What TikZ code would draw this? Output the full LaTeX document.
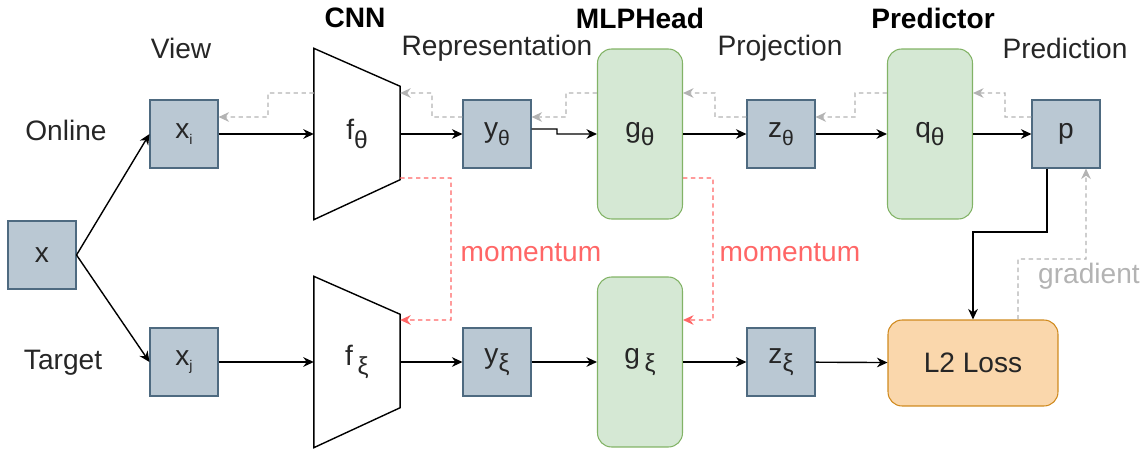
\documentclass[tikz,border=0pt]{standalone}
\usepackage{fontspec}
\setmainfont{Liberation Sans}
\usetikzlibrary{arrows.meta,calc,positioning}
\definecolor{vecfill}{HTML}{BAC8D3}
\definecolor{vecdraw}{HTML}{4E6A80}
\definecolor{headfill}{HTML}{D5E8D4}
\definecolor{headdraw}{HTML}{82B366}
\definecolor{lossfill}{HTML}{FAD7AC}
\definecolor{lossdraw}{HTML}{D08A1E}
\definecolor{momred}{HTML}{FF6666}
\definecolor{gradgray}{HTML}{B3B3B3}
\definecolor{txt}{HTML}{262626}
% lowered subscripts, big and small
\newcommand{\bigsub}[1]{\raisebox{-0.55ex}{\fontsize{14}{14}\selectfont #1}}
\newcommand{\midsub}[1]{\raisebox{-0.5ex}{\fontsize{12}{12}\selectfont #1}}
\newcommand{\tinysub}[1]{\raisebox{-0.35ex}{\fontsize{8}{8}\selectfont #1}}
\tikzset{
  vecbox/.style={draw=vecdraw,fill=vecfill,line width=0.6pt,minimum width=1.36cm,minimum height=1.36cm,inner sep=0pt,font=\fontsize{16}{18}\selectfont,text=txt},
  headbox/.style={draw=headdraw,fill=headfill,line width=0.6pt,rounded corners=8pt,minimum width=1.7cm,minimum height=3.4cm,inner sep=0pt,font=\fontsize{16}{18}\selectfont,text=txt},
  cnnbox/.style={minimum width=1.7cm,minimum height=3.4cm,inner sep=0pt,font=\fontsize{16}{18}\selectfont,text=txt},
  lossbox/.style={draw=lossdraw,fill=lossfill,line width=0.6pt,rounded corners=8pt,minimum width=3.4cm,minimum height=1.72cm,font=\fontsize{16}{18}\selectfont,text=txt},
  lbl/.style={font=\fontsize{16}{18}\selectfont,text=txt,inner sep=1pt},
  title/.style={font=\fontsize{16}{18}\selectfont\bfseries,text=black,inner sep=1pt},
  backflow/.style={->,draw=gradgray,thick,dash pattern=on 2.5pt off 2pt},
  momflow/.style={->,draw=momred,thick,dash pattern=on 2.5pt off 2pt}
}

\begin{document}
\begin{tikzpicture}[x=0.02cm,y=-0.02cm,>={Stealth[length=6pt,width=5.5pt]},thick]
  \useasboundingbox (0,0) rectangle (1147,450);
  % titles and row labels
  \node[title] (tcnn) at (355,18) {CNN};
  \node[title] (tmlp) at (640,18) {MLPHead};
  \node[title] (tpred) at (933,18) {Predictor};
  \node[lbl] (lview) at (181,48) {View};
  \node[lbl] (lrep) at (497,48) {Representation};
  \node[lbl] (lproj) at (780,48) {Projection};
  \node[lbl] (lpred) at (1065,48) {Prediction};
  \node[lbl] (lonline) at (66,130) {Online};
  \node[lbl] (ltarget) at (63,363) {Target};

  % online row
  \node[vecbox] (x) at (42,255) {x};
  \node[vecbox] (xi) at (184,134) {x\tinysub{i}};
  \node[cnnbox] (ft) at (357,134) {f\bigsub{θ}};
  \draw (ft.north west) -- (ft.south west) -- ([yshift=0.8cm]ft.south east)
    -- ([yshift=-0.76cm]ft.north east) -- cycle;
  \node[vecbox] (yt) at (497,134) {y\midsub{θ}};
  \node[headbox] (gt) at (640,134) {g\bigsub{θ}};
  \node[vecbox] (zt) at (781,134) {z\midsub{θ}};
  \node[headbox] (qt) at (930,134) {q\bigsub{θ}};
  \node[vecbox] (p) at (1066,134) {p};

  % target row
  \node[vecbox] (xj) at (184,362) {x\tinysub{j}};
  \node[cnnbox] (fx) at (357,362) {f\,\bigsub{ξ}};
  \draw (fx.north west) -- (fx.south west) -- ([yshift=0.8cm]fx.south east)
    -- ([yshift=-0.76cm]fx.north east) -- cycle;
  \node[vecbox] (yx) at (497,362) {y\bigsub{ξ}};
  \node[headbox] (gx) at (640,362) {g\,\bigsub{ξ}};
  \node[vecbox] (zx) at (781,362) {z\bigsub{ξ}};
  \node[lossbox] (loss) at (973,363) {L2 Loss};

  % forward flow
  \draw[->] (x.east) -- (xi.west);
  \draw[->] (x.east) -- (xj.west);
  \draw[->] (xi) -- (ft);
  \draw[->] (ft) -- (yt);
  \draw[->] ([yshift=0.1cm]yt.east) -- (557,129) |- (gt.west);
  \draw[->] (gt) -- (zt);
  \draw[->] (zt) -- (qt);
  \draw[->] (qt) -- (p);
  \draw[->] (xj) -- (fx);
  \draw[->] (fx) -- (yx);
  \draw[->] (yx) -- (gx);
  \draw[->] (gx) -- (zx);
  \draw[->] (zx) -- (loss);
  \draw[->] ([xshift=-0.38cm]p.south) |- (973,232) -- (loss.north);

  % gradient flow back
  \draw[backflow] ([yshift=0.82cm]ft.west) -| (268,117) -- ([yshift=0.34cm]xi.east);
  \draw[backflow] ([yshift=0.34cm]yt.west) -| (432,93) -- ([yshift=0.82cm]ft.east);
  \draw[backflow] ([yshift=0.82cm]gt.west) -| (566,117) -- ([yshift=0.34cm]yt.east);
  \draw[backflow] ([yshift=0.34cm]zt.west) -| (715,93) -- ([yshift=0.82cm]gt.east);
  \draw[backflow] ([yshift=0.82cm]qt.west) -| (855,117) -- ([yshift=0.34cm]zt.east);
  \draw[backflow] ([yshift=0.34cm]p.west) -| (1005,93) -- ([yshift=0.82cm]qt.east);
  \draw[backflow] ([xshift=0.9cm]loss.north) |- (1086,259) -- ([xshift=0.4cm]p.south);
  \node[lbl,text=gradgray] (lgrad) at (1089,276) {gradient};

  % momentum update
  \draw[momflow] ([yshift=-0.88cm]ft.east) -| (451,320) -- ([yshift=0.84cm]fx.east);
  \draw[momflow] ([yshift=-0.88cm]gt.east) -| (713,320) -- ([yshift=0.84cm]gx.east);
  \node[lbl,text=momred] (mom1) at (531,253) {momentum};
  \node[lbl,text=momred] (mom2) at (790,253) {momentum};
\end{tikzpicture}
\end{document}
